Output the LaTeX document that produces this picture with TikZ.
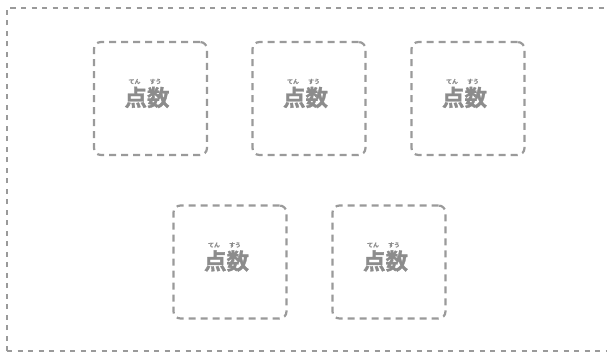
\documentclass[tikz,border=0pt]{standalone}
\usepackage{fontspec}
\newfontfamily\cjk[FakeBold=1.5]{Noto Sans CJK JP Bold}
\newfontfamily\cjkr[FakeBold=0.5]{Noto Sans CJK JP Bold}
\definecolor{dg}{HTML}{9A9A9A}
\definecolor{tg}{HTML}{8C8C8C}
\begin{document}
\begin{tikzpicture}[x=1pt,y=-1pt,
  cell/.style={draw=dg,line width=2.2pt,dash pattern=on 7pt off 5pt,rounded corners=7pt,minimum width=113pt,minimum height=113pt},
  outer/.style={draw=dg,line width=1.8pt,dash pattern=on 5pt off 5.5pt},
  word/.style={text=tg,font=\cjk\fontsize{22.5}{22.5}\selectfont,inner sep=0pt},
  ruby/.style={text=tg,font=\cjkr\fontsize{6}{6}\selectfont,inner sep=0pt}]
\useasboundingbox (0,0) rectangle (607,353);
\draw[outer] (7,351) -- (7,8) -- (612,8);
\draw[outer] (7,351) -- (612,351);
\foreach \n/\x/\y in {a/150.5/98.5, b/309/98.5, c/468/98.5, d/230/262, e/389/262}{
  \node[cell] (\n) at (\x,\y) {};
  \node[word] (\n w) at ([xshift=-3.5pt,yshift=1pt]\n.center) {点数};
  \node[ruby] (\n r1) at ([xshift=-16pt,yshift=17pt]\n.center) {てん};
  \node[ruby] (\n r2) at ([xshift=5pt,yshift=17pt]\n.center) {すう};
}
\end{tikzpicture}
\end{document}
